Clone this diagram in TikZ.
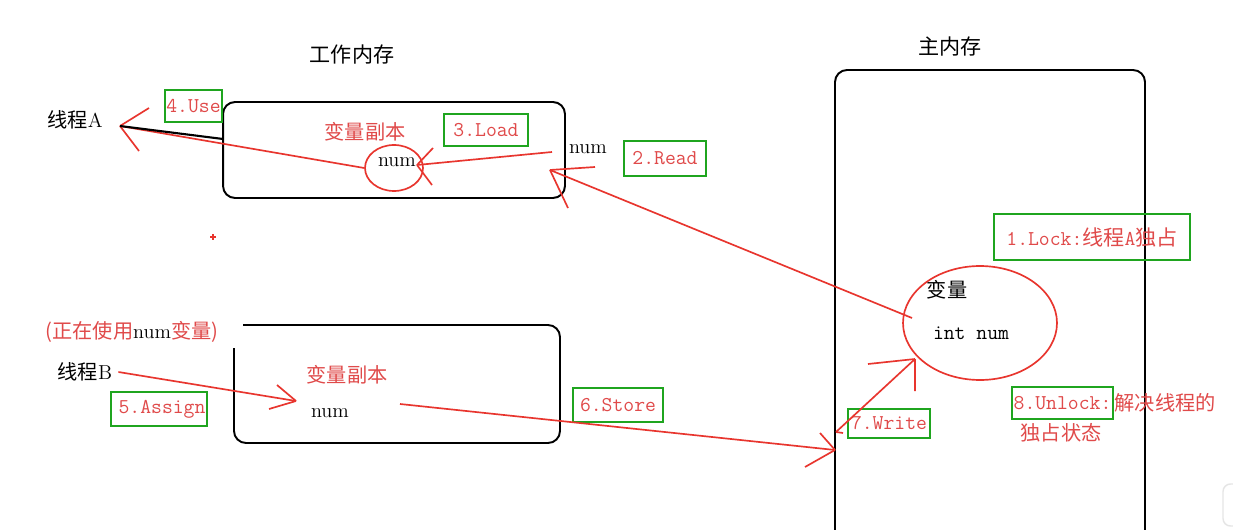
\documentclass[tikz,border=0pt]{standalone}
\usepackage{fontspec}
\newfontfamily\cjk{Noto Sans CJK SC}
\usepackage{tikz}
\usetikzlibrary{shapes.geometric}
\definecolor{memred}{HTML}{E8352E}
\definecolor{txtred}{HTML}{E04A4A}
\definecolor{stepgreen}{HTML}{1FA51F}
\newcommand{\zh}[1]{{\cjk #1}}

\begin{document}
\begin{tikzpicture}[x=0.02cm, y=-0.02cm,
  membox/.style={draw=black, line width=1.1pt, rounded corners=0.24cm},
  flow/.style={draw=memred, line width=0.95pt},
  tag/.style={draw=stepgreen, line width=1.5pt, inner sep=0pt, text=txtred,
    font=\fontsize{12}{14}\ttfamily},
  redtxt/.style={text=txtred, font=\fontsize{11.5}{13}\selectfont},
  blktxt/.style={text=black, font=\fontsize{11.5}{13}\selectfont},
  copyell/.style={draw=memred, line width=0.95pt, ellipse, inner sep=0pt}]
\fill[white] (0,0) rectangle (1233,530);
\useasboundingbox (0,0) rectangle (1233,530);
% ---------------- frames ----------------
\node[membox, minimum width=6.84cm, minimum height=1.92cm] (wmA) at (394,150) {};
\draw[membox] (243,325) -- (560,325) -- (560,443) -- (234,443) -- (234,348);
\draw[membox] (835,540) -- (835,70) -- (1145,70) -- (1145,540);
\node[blktxt, font=\fontsize{12}{14}\selectfont] (wmTitle) at (352,55) {\zh{工作内存}};
\node[blktxt, font=\fontsize{12}{14}\selectfont] (mmTitle) at (950,47) {\zh{主内存}};
% ---------------- threads ----------------
\node[blktxt] (thrA) at (75,120) {\zh{线程}A};
\node[blktxt] (thrB) at (85,372) {\zh{线程}B};
\node[redtxt] (usingB) at (132,332) {\zh{(正在使用}\textcolor{black}{num}\zh{变量)}};
% ---------------- working copies ----------------
\node[redtxt] (copyA) at (365,132) {\zh{变量副本}};
\node[copyell, minimum width=1.16cm, minimum height=0.92cm] (ellA) at (394,168) {};
\node[blktxt] (numA) at (397,162) {num};
\node[blktxt] (numRd) at (588,149) {num};
\node[redtxt] (copyB) at (347,375) {\zh{变量副本}};
\node[blktxt] (numB) at (330,413) {num};
% ---------------- main memory variable ----------------
\node[copyell, minimum width=3.08cm, minimum height=2.28cm] (ellMain) at (980,323) {};
\node[blktxt] (varMain) at (947,290) {\zh{变量}};
\node[blktxt, font=\fontsize{12}{14}\ttfamily] (intNum) at (971,333) {int num};
% ---------------- step tags ----------------
\node[tag, minimum width=1.14cm, minimum height=0.64cm] (tUse) at (193.5,106) {4.Use};
\node[tag, minimum width=1.68cm, minimum height=0.64cm] (tLoad) at (486,130) {3.Load};
\node[tag, minimum width=1.64cm, minimum height=0.70cm] (tRead) at (665,158.5) {2.Read};
\node[tag, minimum width=3.92cm, minimum height=0.92cm] (tLock) at (1092,237) {1.Lock:\zh{线程}A\zh{独占}};
\node[tag, minimum width=1.92cm, minimum height=0.68cm] (tAssign) at (159,409) {\hspace*{0.12cm}5.Assign};
\node[tag, minimum width=1.80cm, minimum height=0.68cm] (tStore) at (618,405) {6.Store};
\node[tag, minimum width=1.64cm, minimum height=0.58cm] (tWrite) at (889,423.5) {7.Write};
\node[tag, minimum width=2.02cm, minimum height=0.64cm] (tUnlock) at (1062.5,403) {8.Unlock:};
\node[redtxt, anchor=west, inner sep=0pt] (unlockA) at (tUnlock.east) {\zh{解决线程的}};
\node[redtxt] (unlockB) at (1061,433) {\zh{独占状态}};
% ---------------- flows ----------------
\coordinate (useTip) at (120,126);
\coordinate (wmAin) at (223,139);
\draw[flow] (ellA.west) -- (useTip);
\draw[flow] (useTip) -- ++(29,-18) (useTip) -- ++(19,25);
\draw[black, line width=1.2pt] (useTip) -- (wmAin);
\coordinate (ldFrom) at (552,152);
\coordinate (ldTip) at (417,165);
\draw[flow] (ldFrom) -- (ldTip);
\draw[flow] (ldTip) -- ++(16,-17) (ldTip) -- ++(15,20);
\coordinate (rdFrom) at (912,318);
\coordinate (rdTip) at (550,170);
\draw[flow] (rdFrom) -- (rdTip);
\draw[flow] (rdTip) -- ++(45,-3) (rdTip) -- ++(18,38);
\coordinate (asTip) at (296,401);
\draw[flow] (thrB.east) -- (asTip);
\draw[flow] (asTip) -- ++(-19,-16) (asTip) -- ++(-27,8);
\coordinate (stFrom) at (400,404);
\coordinate (stTip) at (835,450);
\draw[flow] (stFrom) -- (stTip);
\draw[flow] (stTip) -- ++(-15,-17) (stTip) -- ++(-30,17);
\coordinate (wrLow) at (836,432);
\coordinate (wrTip) at (915,359);
\draw[flow] (wrLow) -- (wrTip);
\draw[flow] (wrTip) -- ++(-47,5) (wrTip) -- ++(0,32);
\draw[flow] (wrLow) -- ++(7,1);
% stray mark and scroll edge
\draw[memred, line width=0.6pt] (210,237) -- (216,237) (213,234) -- (213,240);
\draw[gray!20, line width=0.8pt, rounded corners=0.15cm] (1223,484) rectangle (1250,526);
\end{tikzpicture}
\end{document}
